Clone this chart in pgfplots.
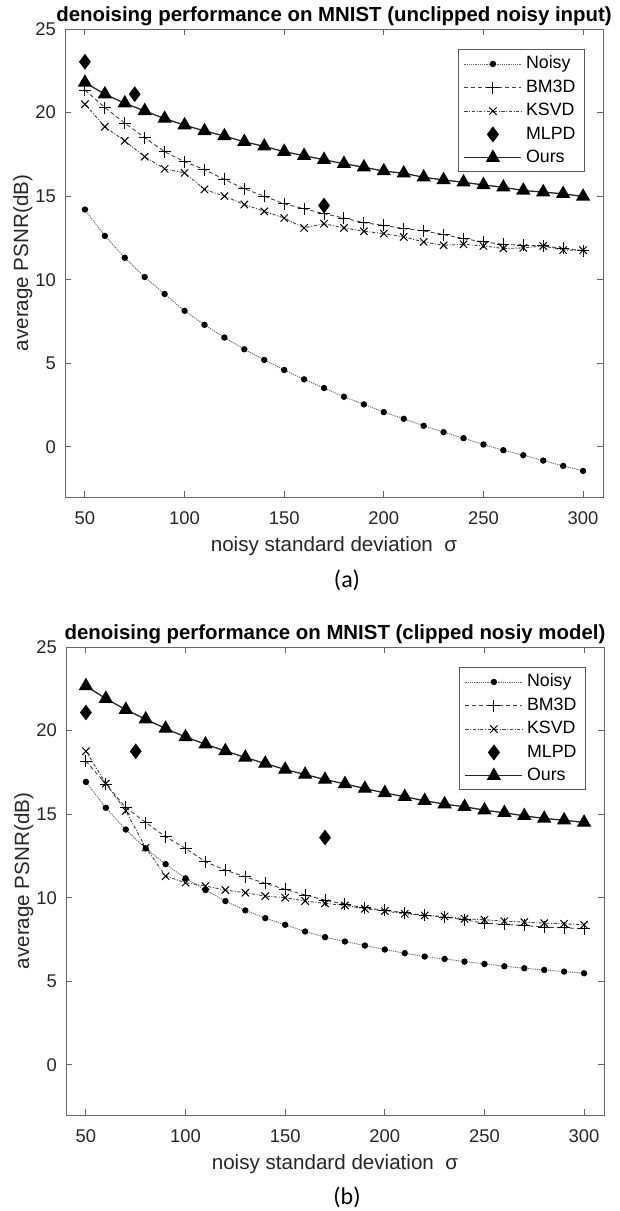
\documentclass[border=0pt]{standalone}
\usepackage{fontspec}
\setmainfont{Liberation Sans}
\newfontfamily\capfont{Carlito}
\usepackage{pgfplots}
\usepackage{pgfplotstable}
\pgfplotsset{compat=1.18}

% sigma, noisy, bm3d, ksvd, ours  (unclipped noisy input)
\pgfplotstableread{
x   noisy  bm3d   ksvd   ours
50  14.20  21.35  20.50  21.80
60  12.62  20.30  19.15  21.10
70  11.31  19.37  18.31  20.56
80  10.16  18.50  17.36  20.10
90   9.15  17.66  16.63  19.64
100  8.14  17.06  16.39  19.25
110  7.30  16.59  15.40  18.90
120  6.54  16.00  15.00  18.60
130  5.84  15.44  14.50  18.25
140  5.20  15.00  14.09  17.98
150  4.60  14.54  13.69  17.66
160  4.04  14.25  13.10  17.42
170  3.52  13.95  13.35  17.18
180  3.00  13.69  13.10  16.94
190  2.54  13.41  12.90  16.73
200  2.08  13.25  12.76  16.50
210  1.68  13.06  12.56  16.37
220  1.26  12.92  12.26  16.13
230  0.88  12.70  12.06  15.97
240  0.52  12.46  12.12  15.83
250  0.14  12.26  12.02  15.67
260 -0.20  12.12  11.87  15.53
270 -0.50  12.06  11.90  15.34
280 -0.82  12.02  12.02  15.24
290 -1.14  11.87  11.77  15.14
300 -1.44  11.73  11.77  14.98
}\unclipped

% clipped noisy model
\pgfplotstableread{
x   noisy  bm3d   ksvd   ours
50  16.93  18.17  18.77  22.67
60  15.38  16.80  16.83  21.91
70  14.08  15.40  15.20  21.25
80  12.95  14.50  13.00  20.68
90  12.01  13.65  11.29  20.12
100 11.16  12.95  10.90  19.62
110 10.46  12.15  10.70  19.18
120  9.80  11.65  10.46  18.78
130  9.24  11.25  10.30  18.39
140  8.78  10.86  10.10  18.03
150  8.38  10.50  10.00  17.67
160  7.98  10.16   9.80  17.37
170  7.64   9.86   9.66  17.07
180  7.38   9.60   9.54  16.81
190  7.14   9.40   9.34  16.53
200  6.90   9.25   9.20  16.27
210  6.68   9.10   9.04  16.04
220  6.48   8.95   8.94  15.80
230  6.34   8.84   8.88  15.60
240  6.18   8.68   8.74  15.44
250  6.04   8.48   8.68  15.24
260  5.90   8.40   8.60  15.08
270  5.78   8.34   8.54  14.90
280  5.68   8.24   8.48  14.74
290  5.58   8.20   8.44  14.64
300  5.48   8.14   8.38  14.50
}\clipped

\pgfplotsset{
  psnr/.style={
    scale only axis, width=269pt, height=234pt,
    xmin=40, xmax=310, ymin=-3, ymax=25,
    xtick={50,100,...,300}, ytick={0,5,...,25},
    tick align=inside, major tick length=3pt,
    axis line style={black!60, line width=0.5pt},
    every tick/.style={black!60, line width=0.5pt},
    /pgf/number format/assume math mode=true,
    tick label style={font=\fontsize{9.2}{11}\selectfont, text=black!85},
    xticklabel style={yshift=-4pt},
    yticklabel style={xshift=-1pt},
    every axis x label/.style={at={(axis description cs:0.5,0)}, anchor=base, yshift=-27pt, font=\fontsize{10.3}{12}\selectfont, text=black!85},
    every axis y label/.style={at={(axis description cs:0,0.5)}, rotate=90, anchor=base, yshift=18.5pt, font=\fontsize{10.3}{12}\selectfont, text=black!85},
    every axis title/.style={at={(axis description cs:0.5,1)}, anchor=base, yshift=3.6pt, font=\bfseries\fontsize{10.2}{12}\selectfont},
    xlabel={noisy standard deviation\ \ σ},
    ylabel={average PSNR(dB)},
    legend style={at={(0.9665,0.957)}, anchor=north east, draw=black!65, line width=0.5pt,
      font=\fontsize{8.9}{10}\selectfont, inner xsep=2.5pt, inner ysep=1.2pt, row sep=0pt,
      cells={anchor=west}},
    legend cell align=left,
    legend image code/.code={\draw[mark repeat=2,mark phase=2,##1] plot coordinates {(0cm,0cm) (0.5cm,0cm) (1cm,0cm)};},
  },
  noisyst/.style={black!60, line width=0.45pt, dash pattern=on 0.6pt off 0.5pt, mark=*, mark size=1.35pt, mark options={solid, black, fill=black}},
  bmst/.style={black!75, line width=0.45pt, dash pattern=on 2pt off 1.4pt, mark=+, mark size=3pt, mark options={solid, black, line width=0.5pt}},
  ksst/.style={black!75, line width=0.45pt, dash pattern=on 1.6pt off 0.8pt on 0.5pt off 0.8pt, mark=x, mark size=2.6pt, mark options={solid, black, line width=0.5pt}},
  mlst/.style={only marks, mark=diamond*, mark size=3.6pt, mark options={black, fill=black},
    legend image code/.code={\draw[##1] plot coordinates {(0.5cm,0cm)};}},
  oust/.style={black!85, line width=0.65pt, solid, mark=triangle*, mark size=3.5pt, mark options={black, fill=black}},
}

\begin{document}
\begin{tikzpicture}
\path[use as bounding box] (0,0) rectangle (310pt,-605.5pt);

\begin{axis}[psnr, at={(32.5pt,-14.5pt)}, anchor=north west,
  title={denoising performance on MNIST (unclipped noisy input)}]
\addplot[noisyst] table[x=x, y=noisy] {\unclipped};
\addplot[bmst] table[x=x, y=bm3d] {\unclipped};
\addplot[ksst] table[x=x, y=ksvd] {\unclipped};
\addplot[mlst] coordinates {(50,23.04) (75,21.10) (170,14.44)};
\addplot[oust] table[x=x, y=ours] {\unclipped};
\legend{Noisy, BM3D, KSVD, MLPD, Ours}
\end{axis}
\node[anchor=base, font=\capfont\fontsize{12}{14}\selectfont] at (173.5pt,-293.5pt) {(a)};

\begin{axis}[psnr, at={(33pt,-323.5pt)}, anchor=north west,
  title={denoising performance on MNIST (clipped nosiy model)}]
\addplot[noisyst] table[x=x, y=noisy] {\clipped};
\addplot[bmst] table[x=x, y=bm3d] {\clipped};
\addplot[ksst] table[x=x, y=ksvd] {\clipped};
\addplot[mlst] coordinates {(50,21.08) (75,18.76) (170,13.60)};
\addplot[oust] table[x=x, y=ours] {\clipped};
\legend{Noisy, BM3D, KSVD, MLPD, Ours}
\end{axis}
\node[anchor=base, font=\capfont\fontsize{12}{14}\selectfont] at (173.5pt,-602pt) {(b)};
\end{tikzpicture}
\end{document}
